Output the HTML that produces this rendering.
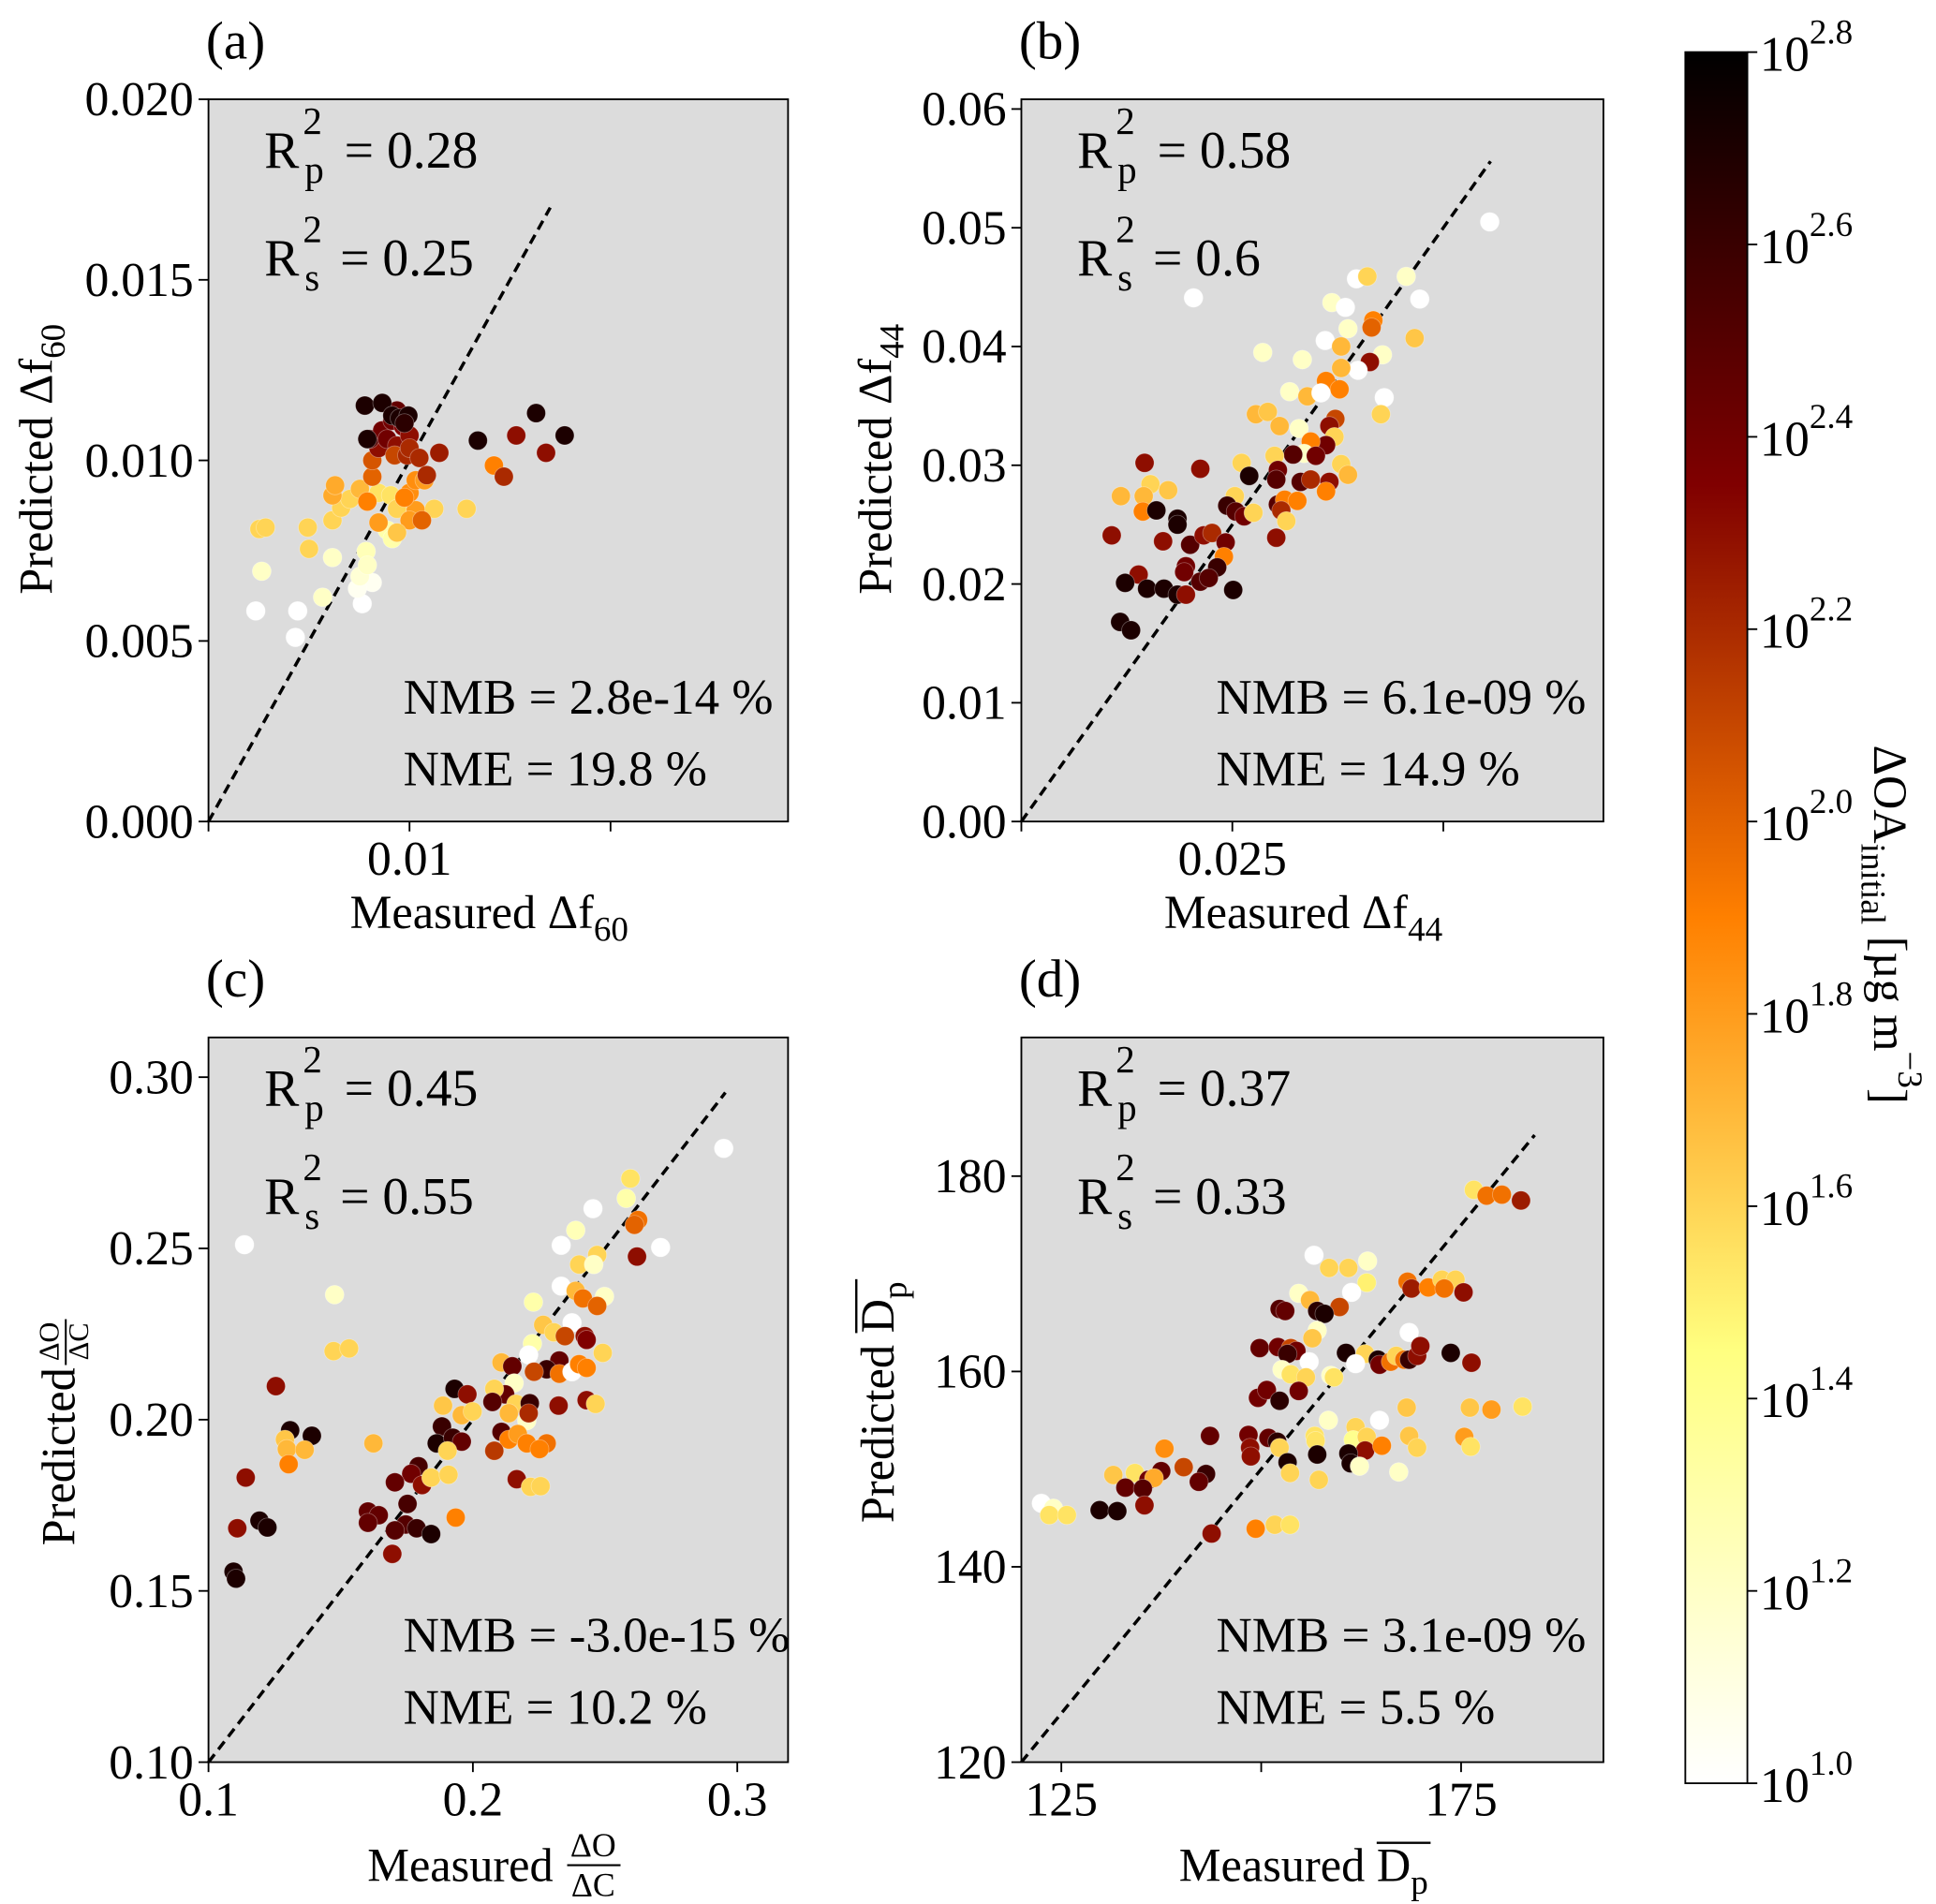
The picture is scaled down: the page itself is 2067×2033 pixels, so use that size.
<!DOCTYPE html>
<html><head><meta charset="utf-8"><style>
html,body{margin:0;padding:0;background:#fff;}
svg{display:block;font-family:"Liberation Serif","DejaVu Serif",serif;}
text{font-family:"Liberation Serif","DejaVu Serif",serif;}
</style></head><body>
<svg id="fig" xmlns="http://www.w3.org/2000/svg" width="2067" height="2033" viewBox="0 0 1560 1534.3" preserveAspectRatio="none">
<defs><linearGradient id="cbgrad" x1="0" y1="1" x2="0" y2="0"></linearGradient></defs>
</svg>
<script>
// ---- data: panel (a) ----
const aX=[0.00235,0.00444,0.00432,0.00765,0.00815,0.00741,0.00265,0.00568,0.00617,0.00753,0.00784,0.0079,0.00889,0.00914,0.00253,0.00284,0.00494,0.005,0.00617,0.0066,0.00704,0.00617,0.0063,0.00753,0.00846,0.00846,0.00907,0.00938,0.01,0.01031,0.01031,0.01074,0.01123,0.01284,0.01,0.00938,0.0079,0.00815,0.00815,0.00846,0.00802,0.00864,0.00889,0.00938,0.00926,0.00988,0.00914,0.00938,0.00969,0.01,0.01,0.01049,0.01086,0.01148,0.00778,0.00864,0.0079,0.00914,0.00951,0.00994,0.00975,0.0134,0.01531,0.0163,0.01772,0.01679,0.0142,0.01469,0.01062,0.00975];
const aY=[0.00583,0.00583,0.0051,0.00603,0.00662,0.00645,0.00693,0.00621,0.00731,0.00679,0.00748,0.0071,0.00807,0.00783,0.0081,0.00814,0.00814,0.00755,0.00834,0.00869,0.00893,0.00903,0.00931,0.00921,0.00828,0.0091,0.00903,0.00866,0.0091,0.00862,0.00945,0.00945,0.00866,0.00866,0.00834,0.008,0.00886,0.00955,0.01,0.01034,0.01059,0.01083,0.01059,0.01041,0.01014,0.01014,0.0111,0.01138,0.01093,0.01069,0.01034,0.01007,0.00959,0.01021,0.01152,0.01159,0.01059,0.01124,0.01117,0.01124,0.01103,0.01055,0.01069,0.01131,0.01069,0.01021,0.00986,0.00955,0.00834,0.00897];
const aC=[1.0,1.0,1.0,1.0,1.05,1.05,1.2,1.2,1.2,1.15,1.25,1.2,1.3,1.3,1.6,1.6,1.6,1.6,1.6,1.6,1.6,1.75,1.75,1.7,1.8,1.55,1.55,1.6,1.85,1.8,1.85,1.8,1.6,1.6,1.8,1.65,1.9,2.0,2.05,2.3,2.5,2.4,2.4,2.3,2.1,2.2,2.4,2.45,2.35,2.3,2.2,2.2,2.2,2.25,2.7,2.7,2.7,2.7,2.7,2.7,2.65,2.7,2.3,2.7,2.7,2.3,1.9,2.2,2.0,1.9];
// ---- data: panel (b) ----
const bX=[0.0555,0.0204,0.0397,0.041,0.0456,0.0472,0.0368,0.0384,0.0417,0.0415,0.0387,0.0466,0.036,0.0379,0.0286,0.0333,0.0428,0.0413,0.0399,0.0379,0.0361,0.0377,0.0318,0.0339,0.0355,0.043,0.0278,0.0292,0.0426,0.0306,0.0372,0.0365,0.0329,0.0371,0.0361,0.0343,0.0335,0.0349,0.0322,0.03,0.0261,0.0379,0.0387,0.027,0.0304,0.0302,0.0331,0.0343,0.0365,0.0361,0.0146,0.0212,0.0153,0.0174,0.0118,0.0145,0.0253,0.0244,0.0304,0.0312,0.0327,0.0308,0.0254,0.0264,0.0275,0.0314,0.0144,0.016,0.0185,0.0185,0.0302,0.0107,0.0168,0.02,0.0216,0.0226,0.0242,0.024,0.0195,0.0193,0.0232,0.0139,0.0123,0.0149,0.0169,0.0185,0.0195,0.0212,0.0222,0.0251,0.0117,0.013];
const bY=[0.0505,0.0441,0.0457,0.0459,0.0459,0.044,0.0437,0.0433,0.0422,0.0416,0.0415,0.0407,0.0405,0.04,0.0395,0.0389,0.0393,0.0387,0.038,0.0382,0.0371,0.0364,0.0362,0.0358,0.0361,0.0357,0.0343,0.0345,0.0343,0.0333,0.0339,0.0333,0.0331,0.0324,0.0317,0.032,0.031,0.0308,0.0309,0.0308,0.0302,0.0301,0.0292,0.0291,0.0296,0.0288,0.0286,0.0288,0.0286,0.0278,0.0302,0.0297,0.0284,0.0279,0.0274,0.0274,0.0274,0.0266,0.0267,0.0271,0.027,0.0262,0.0261,0.0257,0.026,0.0253,0.0261,0.0262,0.0255,0.025,0.0239,0.0241,0.0236,0.0233,0.0241,0.0243,0.0235,0.0223,0.0215,0.021,0.0214,0.0208,0.0201,0.0196,0.0196,0.0191,0.0191,0.0202,0.0205,0.0195,0.0168,0.0161];
const bC=[1.0,1.0,1.0,1.6,1.2,1.0,1.2,1.0,1.9,2.0,1.2,1.65,1.0,1.7,1.2,1.2,1.2,2.3,1.0,1.7,1.9,1.9,1.2,1.7,1.0,1.0,1.7,1.65,1.6,1.7,2.1,2.3,1.2,1.6,2.4,1.9,1.2,2.4,2.5,1.6,1.6,1.6,1.7,2.7,2.4,2.5,2.5,2.2,2.3,1.9,2.3,2.3,1.6,1.65,1.7,1.7,1.6,2.6,2.5,1.9,1.9,2.2,2.5,2.4,1.6,1.6,1.9,2.7,2.7,2.7,2.3,2.3,2.3,2.5,2.3,2.2,2.4,1.9,2.4,2.4,2.6,2.3,2.7,2.7,2.7,2.7,2.3,2.5,2.5,2.7,2.7,2.7];
// ---- data: panel (c) ----
const cX=[0.2949,0.2596,0.258,0.2454,0.2625,0.2611,0.2389,0.2334,0.271,0.2621,0.247,0.2402,0.2457,0.2334,0.2389,0.2416,0.2498,0.247,0.2229,0.2266,0.2375,0.2306,0.2348,0.2423,0.243,0.2491,0.2225,0.2211,0.2108,0.2149,0.2327,0.2279,0.2327,0.2375,0.2402,0.243,0.2231,0.2156,0.2122,0.2081,0.1931,0.1979,0.2074,0.2163,0.2215,0.2324,0.243,0.2464,0.1887,0.1958,0.1999,0.2136,0.2204,0.2211,0.1883,0.2108,0.2136,0.217,0.1309,0.1391,0.1289,0.1296,0.1364,0.1624,0.1863,0.1924,0.1958,0.1904,0.2204,0.2279,0.2252,0.2081,0.1303,0.1794,0.1767,0.1705,0.1808,0.1842,0.1908,0.2166,0.2218,0.2256,0.1141,0.1753,0.1603,0.1644,0.1603,0.1935,0.1746,0.1705,0.1787,0.1842,0.1193,0.1223,0.1109,0.1695,0.1095,0.1104,0.1136,0.1477,0.1473,0.1532,0.1255];
const cY=[0.2792,0.2704,0.2646,0.2616,0.2583,0.2569,0.2553,0.2509,0.2503,0.2476,0.2481,0.2453,0.2453,0.239,0.2376,0.2354,0.236,0.2332,0.2343,0.2277,0.2283,0.2255,0.2244,0.2244,0.2233,0.2195,0.2222,0.2189,0.2167,0.2156,0.2173,0.2147,0.2134,0.214,0.2162,0.2151,0.214,0.2107,0.2074,0.209,0.209,0.2074,0.2052,0.2046,0.2048,0.2041,0.2057,0.2046,0.2041,0.2013,0.2024,0.2019,0.1997,0.2019,0.198,0.1964,0.1942,0.1958,0.1969,0.1953,0.1942,0.1914,0.1912,0.1931,0.1931,0.1947,0.1936,0.1909,0.1931,0.1931,0.1914,0.1909,0.187,0.1864,0.1842,0.1817,0.1809,0.1831,0.1839,0.1826,0.1804,0.1806,0.1831,0.1754,0.1732,0.1721,0.1699,0.1714,0.1694,0.1677,0.1683,0.1666,0.1705,0.1685,0.1683,0.1608,0.1556,0.1536,0.2511,0.2365,0.22,0.2208,0.2098];
const cC=[1.0,1.55,1.3,1.0,1.95,2.0,1.25,1.0,1.0,2.3,1.6,1.6,1.2,1.0,1.7,1.95,1.2,2.0,1.3,1.65,1.0,1.6,2.1,2.3,2.35,1.6,1.3,1.0,1.7,2.45,2.45,2.6,1.95,1.0,1.9,1.9,2.1,1.2,2.45,1.6,2.7,2.3,2.5,1.6,2.6,2.3,2.3,1.6,1.65,1.7,1.6,1.7,1.2,2.2,2.6,2.5,1.9,1.8,2.7,2.7,1.65,1.7,1.7,1.7,2.7,2.6,2.45,1.6,1.9,1.95,1.9,2.15,1.9,2.55,2.4,2.45,2.3,1.6,1.6,2.3,1.6,1.6,2.3,2.55,2.45,2.45,2.45,1.9,2.5,2.5,2.6,2.7,2.7,2.7,2.3,2.3,2.7,2.7,1.0,1.2,1.6,1.6,2.3];
// ---- data: panel (d) ----
const dX=[176.6,178.2,180.1,182.5,156.6,158.5,160.9,163.3,163.2,161.3,154.7,156.1,159.8,152.3,153.0,157.0,157.9,168.3,168.8,170.9,172.6,174.3,172.9,175.3,157.0,156.4,168.5,149.8,152.1,153.7,154.4,153.3,156.0,152.6,153.7,155.6,158.7,159.1,160.6,163.0,161.8,164.6,164.8,166.2,166.9,167.9,168.5,169.5,169.9,173.7,176.3,149.6,150.7,152.3,154.7,158.4,164.8,168.2,176.1,178.8,182.7,143.6,148.4,150.9,152.0,152.3,148.6,148.7,156.7,156.8,157.0,153.3,153.6,157.2,161.8,161.5,163.2,163.0,165.1,160.9,161.2,162.3,168.5,169.5,167.2,175.4,176.2,137.9,140.3,137.5,143.1,142.2,131.5,134.2,135.9,136.6,133.0,135.2,135.4,122.5,124.0,123.5,125.7,129.8,132.0,143.8,149.3,151.7,153.6];
const dY=[178.6,178.0,178.1,177.5,171.9,170.6,170.6,171.3,169.1,168.1,168.0,167.3,166.6,166.4,166.2,166.2,165.9,169.2,168.5,168.6,169.4,169.4,168.5,168.1,164.2,163.4,164.0,162.4,162.5,162.4,162.1,161.8,161.0,160.2,159.7,159.4,159.6,159.4,161.9,161.8,160.8,161.2,160.7,161.0,161.6,161.2,161.2,161.6,162.6,161.9,160.9,157.3,158.1,157.0,158.0,155.0,155.0,156.3,156.3,156.1,156.4,153.4,153.5,153.2,152.8,152.2,152.2,151.3,153.4,152.9,151.5,150.7,149.6,148.9,154.3,153.0,153.3,151.9,152.4,151.6,150.6,150.3,153.4,152.2,149.7,153.3,152.3,152.1,150.2,149.8,149.5,148.7,149.4,149.6,148.9,149.1,148.1,148.0,146.3,146.5,146.0,145.3,145.3,145.8,145.7,143.4,143.9,144.3,144.3];
const dC=[1.55,1.95,1.95,2.25,1.0,1.6,1.6,1.2,1.5,1.0,1.2,1.7,2.1,2.5,2.45,2.65,2.7,1.95,2.25,1.9,1.6,1.6,1.95,2.3,1.2,1.65,1.0,2.45,2.4,2.1,2.4,2.6,1.0,1.2,1.55,1.6,1.2,1.55,2.7,1.6,1.0,2.7,2.4,1.95,1.6,1.95,2.6,2.3,2.3,2.7,2.3,2.4,2.4,2.65,2.4,1.2,1.0,1.65,1.65,1.8,1.55,2.45,2.4,2.45,2.65,1.6,2.3,2.3,1.55,1.55,2.7,2.7,1.6,1.6,1.6,1.4,1.6,2.3,1.9,2.7,2.7,1.2,1.65,1.6,1.2,1.8,1.55,1.85,2.1,2.45,2.6,2.45,1.65,1.55,2.4,1.75,2.45,2.5,2.3,1.0,1.2,1.55,1.55,2.7,2.7,2.3,1.9,1.6,1.55];
// ---- axes / ticks ----
const aXTicks=[0,0.01,0.02], aXLabels=['','0.01',''];
const aYTicks=[0,0.005,0.01,0.015,0.02], aYLabels=['0.000','0.005','0.010','0.015','0.020'];
const bXTicks=[0,0.025,0.05], bXLabels=['','0.025',''];
const bYTicks=[0,0.01,0.02,0.03,0.04,0.05,0.06], bYLabels=['0.00','0.01','0.02','0.03','0.04','0.05','0.06'];
const cXTicks=[0.1,0.2,0.3], cXLabels=['0.1','0.2','0.3'];
const cYTicks=[0.1,0.15,0.2,0.25,0.3], cYLabels=['0.10','0.15','0.20','0.25','0.30'];
const dXTicks=[125,150,175], dXLabels=['125','','175'];
const dYTicks=[120,140,160,180], dYLabels=['120','140','160','180'];
const cbTicks=[1.0,1.2,1.4,1.6,1.8,2.0,2.2,2.4,2.6,2.8], cbLabels=['1.0','1.2','1.4','1.6','1.8','2.0','2.2','2.4','2.6','2.8'];
const stats={a:['0.28','0.25','2.8e-14','19.8'],b:['0.58','0.6','6.1e-09','14.9'],c:['0.45','0.55','-3.0e-15','10.2'],d:['0.37','0.33','3.1e-09','5.5']};

const NS='http://www.w3.org/2000/svg';
const svg=document.getElementById('fig');
function mk(tag,attrs,parent){const e=document.createElementNS(NS,tag);for(const k in attrs)e.setAttribute(k,attrs[k]);(parent||svg).appendChild(e);return e;}
function cmap(c){let t=(c-1)/1.8;t=Math.max(0,Math.min(1,t));const x=1-t;const cl=v=>Math.round(255*Math.max(0,Math.min(1,v)));return `rgb(${cl(2*x)},${cl(2*x-0.5)},${cl(2*x-1)})`;}

const CB={x0:1358,x1:1408,y0:42,y1:1437,lo:1.0,hi:2.8};
const grad=svg.querySelector('#cbgrad');
for(let i=0;i<=36;i++){const c=CB.lo+(CB.hi-CB.lo)*i/36;mk('stop',{offset:(i/36).toFixed(4),'stop-color':cmap(c)},grad);}

const panels=[
 {id:'a',L:168,R:635,T:80,B:662,xmin:0,xmax:0.02883,ymin:0,ymax:0.0200,X:aX,Y:aY,C:aC,xt:aXTicks,xl:aXLabels,yt:aYTicks,yl:aYLabels,lineEnd:0.0170},
 {id:'b',L:823,R:1292,T:80,B:662,xmin:0,xmax:0.06897,ymin:0,ymax:0.06082,X:bX,Y:bY,C:bC,xt:bXTicks,xl:bXLabels,yt:bYTicks,yl:bYLabels,lineEnd:0.0556},
 {id:'c',L:168,R:635,T:836,B:1420,xmin:0.1,xmax:0.3192,ymin:0.1,ymax:0.3116,X:cX,Y:cY,C:cC,xt:cXTicks,xl:cXLabels,yt:cYTicks,yl:cYLabels,lineEnd:0.2955},
 {id:'d',L:823,R:1292,T:836,B:1420,xmin:120,xmax:192.8,ymin:120,ymax:194.2,X:dX,Y:dY,C:dC,xt:dXTicks,xl:dXLabels,yt:dYTicks,yl:dYLabels,lineEnd:184.2}
];

panels.forEach(p=>{
  const g=mk('g',{});
  
  
  const sx=v=>p.L+(v-p.xmin)/(p.xmax-p.xmin)*(p.R-p.L);
  const sy=v=>p.B-(v-p.ymin)/(p.ymax-p.ymin)*(p.B-p.T);
  const bg=mk('rect',{x:p.L,y:p.T,width:p.R-p.L,height:p.B-p.T,fill:'#dcdcdc'},g);
  
  
  const ln=mk('line',{x1:sx(p.xmin),y1:sy(p.ymin),x2:sx(p.lineEnd),y2:sy(p.lineEnd),stroke:'#000','stroke-width':2.6,'stroke-dasharray':'8,5'},g);
  
  
  const pts=mk('g',{},g);
  
  
  for(let i=0;i<p.X.length;i++){
    const dot=mk('circle',{cx:sx(p.X[i]).toFixed(1),cy:sy(p.Y[i]).toFixed(1),r:7.6,fill:cmap(p.C[i]),stroke:'#ffffff','stroke-opacity':0.35,'stroke-width':0.6},pts);
    
    
  }
  const fr=mk('rect',{x:p.L,y:p.T,width:p.R-p.L,height:p.B-p.T,fill:'none',stroke:'#000','stroke-width':1.4},g);
  
  
  p.xt.forEach((t,i)=>{
    const x=sx(t);
    const tk=mk('line',{x1:x,y1:p.B,x2:x,y2:p.B+8,stroke:'#000','stroke-width':1.4},g);
    
    
    if(p.xl[i]){const tx=mk('text',{x:x,y:p.B+43,'font-size':39,'text-anchor':'middle'},g);tx.textContent=p.xl[i];
      
      }
  });
  p.yt.forEach((t,i)=>{
    const y=sy(t);
    const tk=mk('line',{x1:p.L-8,y1:y,x2:p.L,y2:y,stroke:'#000','stroke-width':1.4},g);
    
    
    const tx=mk('text',{x:p.L-12,y:y+13,'font-size':39,'text-anchor':'end'},g);tx.textContent=p.yl[i];
    
    
  });
  const s=stats[p.id];
  const lab=mk('text',{x:p.L-2,y:p.T-33,'font-size':43},g);lab.textContent='('+p.id+')';
  
  
  [[s[0],'p',55],[s[1],'s',142]].forEach(([v,sub,dy])=>{
    const t=mk('text',{x:p.L+45,y:p.T+dy,'font-size':42},g);
    
    
    t.innerHTML=`R<tspan dy="-27" font-size="31" dx="3">2</tspan><tspan dy="39" dx="-14" font-size="31">${sub}</tspan><tspan dy="-12" dx="6"> = ${v}</tspan>`;
  });
  const n1=mk('text',{x:p.L+157,y:p.T+495,'font-size':40},g);n1.textContent='NMB = '+s[2]+' %';
  
  
  const n2=mk('text',{x:p.L+157,y:p.T+553,'font-size':40},g);n2.textContent='NME = '+s[3]+' %';
  
  
});

function txt(attrs,html,name){const t=mk('text',attrs);t.innerHTML=html;return t;}
// x-axis titles
txt({x:282,y:748,'font-size':38},'Measured Δf<tspan font-size="28" dy="10">60</tspan>','x-axis-title-a');
txt({x:938,y:748,'font-size':38},'Measured Δf<tspan font-size="28" dy="10">44</tspan>','x-axis-title-b');
txt({x:296,y:1516,'font-size':38},'Measured','x-axis-title-c');
txt({x:478,y:1496,'font-size':27,'text-anchor':'middle'},'ΔO','x-axis-title-c-num');
mk('line',{x1:457,y1:1503,x2:500,y2:1503,stroke:'#000','stroke-width':1.6});
txt({x:478,y:1528,'font-size':27,'text-anchor':'middle'},'ΔC','x-axis-title-c-den');
const xd=txt({x:950,y:1516,'font-size':38},'Measured D<tspan font-size="28" dy="10">p</tspan>','x-axis-title-d');
// overline over D_p (x label)
try{const n=xd.getNumberOfChars();const e0=xd.getExtentOfChar(n-2),e1=xd.getExtentOfChar(n-1);
  mk('line',{x1:e0.x,y1:1485,x2:e1.x+e1.width+2,y2:1485,stroke:'#000','stroke-width':1.8});}catch(e){mk('line',{x1:1118,y1:1485,x2:1162,y2:1485,stroke:'#000','stroke-width':1.8});}
// y-axis titles
txt({x:0,y:0,'font-size':38,'text-anchor':'middle',transform:'translate(42,370) rotate(-90)'},'Predicted Δf<tspan font-size="28" dy="10">60</tspan>','y-axis-title-a');
txt({x:0,y:0,'font-size':38,'text-anchor':'middle',transform:'translate(718,370) rotate(-90)'},'Predicted Δf<tspan font-size="28" dy="10">44</tspan>','y-axis-title-b');
txt({x:0,y:0,'font-size':38,'text-anchor':'end',transform:'translate(60,1102) rotate(-90)'},'Predicted','y-axis-title-c');
txt({x:0,y:0,'font-size':23,'text-anchor':'middle',transform:'translate(47,1081) rotate(-90)'},'ΔO','y-axis-title-c-num');
txt({x:0,y:0,'font-size':23,'text-anchor':'middle',transform:'translate(71,1081) rotate(-90)'},'ΔC','y-axis-title-c-den');
mk('line',{x1:53,y1:1063,x2:53,y2:1100,stroke:'#000','stroke-width':1.5});
const yd=txt({x:0,y:0,'font-size':38,'text-anchor':'middle',transform:'translate(720,1130) rotate(-90)'},'Predicted D<tspan font-size="28" dy="10">p</tspan>','y-axis-title-d');
try{const n=yd.getNumberOfChars();const e0=yd.getExtentOfChar(n-2),e1=yd.getExtentOfChar(n-1);
  // local coords: x along text; rotated -90 around (720,1130): screen y = 1130 - localx
  mk('line',{x1:690,y1:1130-e0.x,x2:690,y2:1130-(e1.x+e1.width+2),stroke:'#000','stroke-width':1.8});}catch(e){mk('line',{x1:690,y1:1044,x2:690,y2:1090,stroke:'#000','stroke-width':1.8});}

// colorbar
const cbr=mk('rect',{x:CB.x0,y:CB.y0,width:CB.x1-CB.x0,height:CB.y1-CB.y0,fill:'url(#cbgrad)',stroke:'#000','stroke-width':1.4});


const cy=v=>CB.y1-(v-CB.lo)/(CB.hi-CB.lo)*(CB.y1-CB.y0);
cbTicks.forEach((t,i)=>{
  const y=cy(t);
  const tk=mk('line',{x1:CB.x1,y1:y,x2:CB.x1+8,y2:y,stroke:'#000','stroke-width':1.4});
  
  
  const tx=mk('text',{x:CB.x1+10,y:y+15,'font-size':40});
  tx.innerHTML=`10<tspan font-size="28" dy="-22">${cbLabels[i]}</tspan>`;
  
  
});
txt({x:0,y:0,'font-size':38,'text-anchor':'middle',transform:'translate(1510,745) rotate(90)'},'ΔOA<tspan font-size="28" dy="10">initial</tspan><tspan dy="-10"> [µg m</tspan><tspan font-size="28" dy="-20">−3</tspan><tspan dy="20">]</tspan>','colorbar-title');
</script>
</body></html>
